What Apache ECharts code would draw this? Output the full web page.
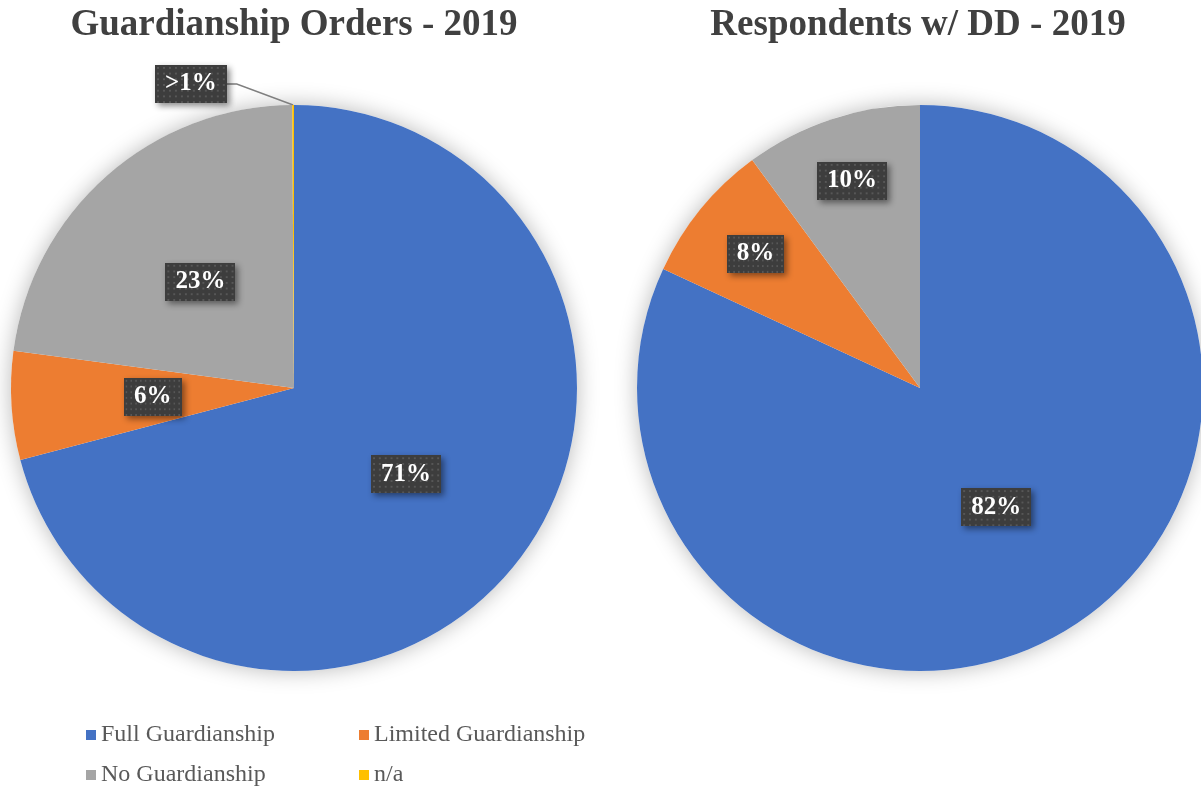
<!DOCTYPE html>
<html>
<head>
<meta charset="utf-8">
<script src="https://cdn.jsdelivr.net/npm/echarts@6/dist/echarts.min.js"></script>
<style>
  html, body { margin: 0; padding: 0; background: #fff; }
  #pies { width: 1201px; height: 787px; }
</style>
</head>
<body>
<div id="pies"></div>
<script>
// 数据
var categories = ['Full Guardianship', 'Limited Guardianship', 'No Guardianship', 'n/a'];
var ordersValues = [70.9, 6.2, 22.8, 0.1];       // Guardianship Orders - 2019
var respondentsValues = [81.9, 8.0, 10.1, 0];    // Respondents w/ DD - 2019
var chartTitles = ['Guardianship Orders - 2019', 'Respondents w/ DD - 2019'];
var sliceColors = ['#4472c4', '#ed7d31', '#a5a5a5', '#ffc000'];

var pieR = 283;
var centers = [[294, 388], [920, 388]];
// how far out (fraction of radius) each data label sits, like Excel "best fit"
var labelDist = [[0.5, 0.5, 0.5], [0.5, 0.75, 0.77]];

// dotted dark box behind the data labels
function makeDots() {
  var c = document.createElement('canvas');
  c.width = 72; c.height = 40;
  var ctx = c.getContext('2d');
  ctx.fillStyle = '#3d3d3d';
  ctx.fillRect(0, 0, c.width, c.height);
  ctx.fillStyle = '#575757';
  for (var y = 2; y < c.height; y += 6) {
    for (var x = 2; x < c.width; x += 6) {
      ctx.fillRect(x, y, 2, 2);
    }
  }
  return c;
}
var dots = makeDots();

var serif = '"Liberation Serif", "Times New Roman", serif';

// mid angle of a slice, clockwise from 12 o'clock (radians)
function midAngle(values, idx) {
  var total = 0, before = 0;
  for (var i = 0; i < values.length; i++) {
    total += values[i];
    if (i < idx) before += values[i];
  }
  return (before + values[idx] / 2) / total * Math.PI * 2;
}

function buildData(values) {
  var list = [];
  for (var i = 0; i < values.length; i++) {
    if (values[i] <= 0) continue;
    var item = { name: categories[i], value: values[i] };
    if (values[i] < 1) {
      item.label = { position: 'outside' };
      item.labelLine = { show: true };
    }
    list.push(item);
  }
  return list;
}

function pieSeries(values, s) {
  var c = centers[s];
  return {
    type: 'pie',
    radius: pieR,
    center: c,
    startAngle: 90,
    clockwise: true,
    avoidLabelOverlap: false,
    label: {
      show: true,
      position: 'inside',
      formatter: function (p) {
        return p.percent < 1 ? '>1%' : Math.round(p.percent) + '%';
      },
      fontFamily: serif,
      fontWeight: 'bold',
      fontSize: 25,
      color: '#fff',
      backgroundColor: { image: dots },
      padding: [7, 10, 6, 10],
      shadowColor: 'rgba(0,0,0,0.45)',
      shadowBlur: 6,
      shadowOffsetX: 3,
      shadowOffsetY: 3
    },
    labelLine: {
      show: false,
      length: 10,
      length2: 10,
      lineStyle: { color: '#7f7f7f', width: 1.5 }
    },
    labelLayout: function (params) {
      var i = params.dataIndex;
      if (values[i] < 1) {
        return { x: 155, y: 84, align: 'left', verticalAlign: 'middle' };
      }
      var a = midAngle(values, i);
      var d = labelDist[s][i] * pieR;
      return {
        x: c[0] + d * Math.sin(a),
        y: c[1] - d * Math.cos(a),
        align: 'center',
        verticalAlign: 'middle'
      };
    },
    emphasis: { scale: false },
    data: buildData(values)
  };
}

var legendPos = [[81, 718], [354, 718], [81, 758], [354, 758]];
var legends = [];
for (var k = 0; k < categories.length; k++) {
  legends.push({
    data: [categories[k]],
    left: legendPos[k][0],
    top: legendPos[k][1],
    icon: 'rect',
    itemWidth: 10,
    itemHeight: 10,
    itemGap: 0,
    textStyle: { fontFamily: serif, fontSize: 24, color: '#595959' }
  });
}

var glow = [];
for (var g = 0; g < centers.length; g++) {
  glow.push({
    type: 'circle',
    z: -10,
    shape: { cx: centers[g][0], cy: centers[g][1], r: pieR },
    style: { fill: '#fff', shadowBlur: 22, shadowColor: 'rgba(0,0,0,0.28)' },
    silent: true
  });
}

var myChart = echarts.init(document.getElementById('pies'));
myChart.setOption({
  animation: false,
  color: sliceColors,
  legend: legends,
  graphic: glow.concat([
    {
      type: 'text', x: 294, y: 25,
      style: { text: chartTitles[0], font: 'bold 37px ' + serif, fill: '#404040', align: 'center', verticalAlign: 'middle' }
    },
    {
      type: 'text', x: 918, y: 25,
      style: { text: chartTitles[1], font: 'bold 37px ' + serif, fill: '#404040', align: 'center', verticalAlign: 'middle' }
    }
  ]),
  series: [
    pieSeries(ordersValues, 0),
    pieSeries(respondentsValues, 1)
  ]
});
</script>
</body>
</html>
